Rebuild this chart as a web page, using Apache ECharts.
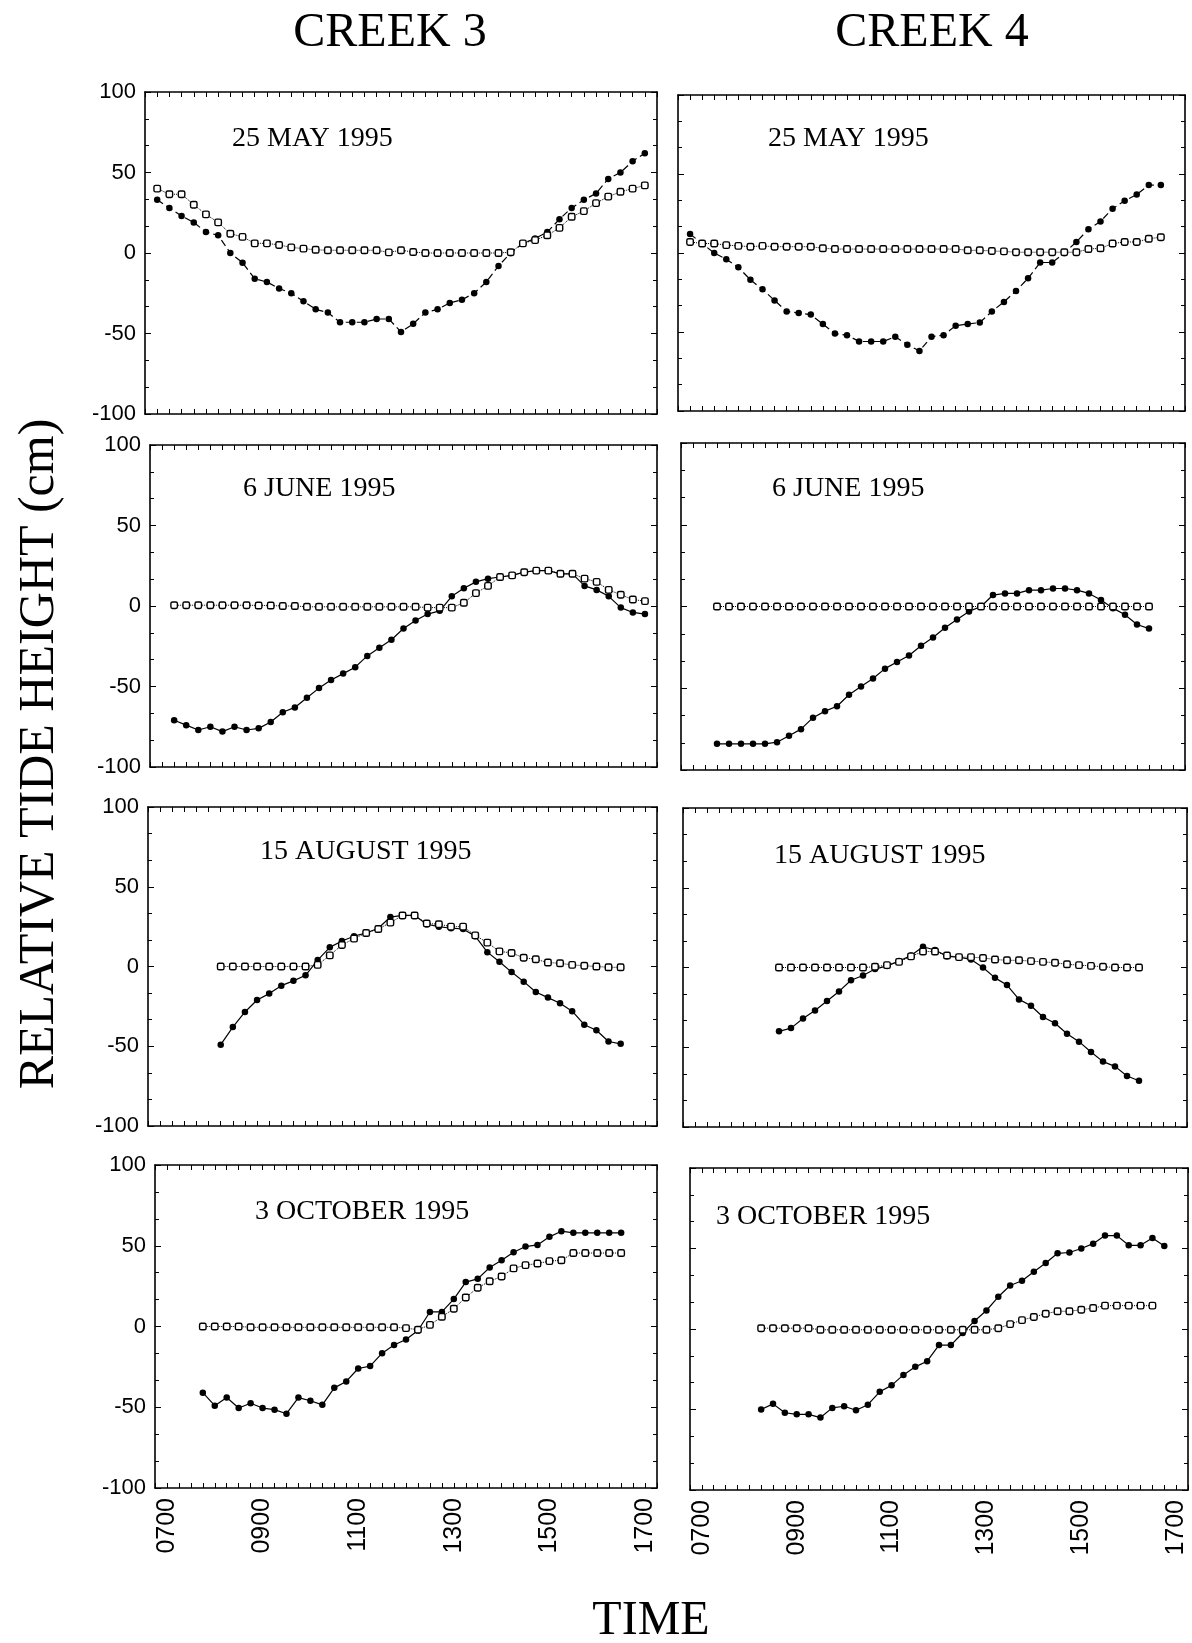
<!DOCTYPE html>
<html>
<head>
<meta charset="utf-8">
<title>Relative tide height - creeks 3 and 4</title>
<script src="https://cdn.jsdelivr.net/npm/echarts@6.0.0/dist/echarts.min.js"></script>
<style>
html, body { margin: 0; padding: 0; background: #fff; }
#main { width: 1192px; height: 1643px; }
</style>
</head>
<body>
<div id="main"></div>
<script>
// readings every 15 min, starting at the given clock time (hhmm)
var may3Start = '0700';
var may3Filled = [33, 28, 23, 19, 13, 11, 0, -6, -16, -18,
  -22, -25, -30, -35, -37, -43, -43, -43, -41, -41,
  -49, -44, -37, -35, -31, -29, -25, -18, -8, 0,
  6, 9, 13, 21, 28, 33, 37, 46, 50, 57, 62];
var may3Open = [40, 36.5, 36.5, 30, 24, 19, 12, 10, 6, 6,
  5, 3.5, 2.7, 2, 1.7, 1.7, 1.7, 1.7, 1.7, 0.4,
  1.7, 0.6, 0, 0, 0, 0, 0, 0, 0, 0.5,
  6, 8, 11, 15.6, 22.5, 26, 31, 35, 38, 40, 42];

var may4Start = '0700';
var may4Filled = [12, 6, 0, -4, -9, -17, -23, -30, -37, -38,
  -39, -45, -51, -52, -56, -56, -56, -53, -58, -62,
  -53, -52, -46, -45, -44, -37, -31, -24, -16, -6,
  -6, 0, 7, 15, 20, 28, 33, 37, 43, 43];
var may4Open = [7, 6, 6, 5, 4.5, 4, 4.5, 4, 4, 4,
  4, 3, 2.5, 2.5, 2.5, 2.5, 2.5, 2.5, 2.5, 2.5,
  2.5, 2.5, 2.5, 1.7, 1.7, 1.3, 1, 0.5, 0.5, 0.5,
  0.5, 0.5, 0.5, 2.5, 3, 6, 7, 7, 9, 10];

var jun3Start = '0715';
var jun3Filled = [-71, -74, -77, -75, -78, -75, -77, -76, -72, -66,
  -63, -57, -51, -46, -42, -38, -31, -26, -21, -14,
  -9, -5, -3, 6, 11, 15, 17, 18, 19, 21,
  22, 22, 20, 20, 12.5, 10, 6, -1, -4, -5];
var jun3Open = [0.5, 0.5, 0.5, 0.5, 0.5, 0.5, 0.5, 0.3, 0.3, 0,
  0, -0.5, -0.5, -0.5, -0.5, -0.5, -0.5, -0.5, -0.5, -0.5,
  -0.5, -1, -1, -1, 2, 8, 12.5, 18, 19, 21,
  22, 22, 20, 20, 17, 15, 10, 7, 4, 3];

var jun4Start = '0730';
var jun4Filled = [-84, -84, -84, -84, -84, -83, -79, -75, -68, -64,
  -61, -54, -49, -44, -38, -34, -30, -24, -19, -13,
  -8, -3, 0, 7, 8, 8, 10, 10, 11, 11,
  10, 8, 4, -1, -5, -11, -13.5];
var jun4Open = [0, 0, 0, 0, 0, 0, 0, 0, 0, 0,
  0, 0, 0, 0, 0, 0, 0, 0, 0, 0,
  0, 0, 0, 0, 0, 0, 0, 0, 0, 0,
  0, 0, 0, 0, 0, 0, 0];

var aug3Start = '0815';
var aug3Filled = [-49, -38, -28.5, -21, -17, -12, -9, -5.5, 4, 12,
  16, 19, 21, 24, 31, 32, 32, 26.5, 25, 24,
  23.5, 19, 9, 3, -3.5, -9.5, -16, -19.5, -23, -28,
  -36.5, -40, -47, -48.5];
var aug3Open = [0, 0, 0, 0, 0, 0, 0, 0, 1, 7,
  13.5, 17.5, 21, 23.5, 27.5, 32, 32, 27, 26.5, 25,
  25, 19.5, 15, 9.5, 8.5, 5.5, 4.5, 2.5, 2, 1,
  0.5, 0, -0.5, -0.5];

var aug4Start = '0845';
var aug4Filled = [-40, -38, -32, -27, -21, -15, -8, -5, -1, 1,
  4, 7.5, 13, 11, 7, 6.5, 5, 0, -6.5, -11,
  -20, -24, -31, -35, -41.5, -46.5, -53, -59, -62, -68,
  -71];
var aug4Open = [0, 0, 0, 0, 0, 0, 0, 0, 0.5, 1.5,
  3.5, 7, 10, 10, 7.5, 6.5, 6.5, 6, 5, 4.5,
  4.5, 4, 3.5, 3, 2, 1.5, 1, 0.5, 0, 0,
  0];

var oct3Start = '0745';
var oct3Filled = [-41, -49, -44, -50.5, -47.5, -50.5, -51.5, -54, -44, -46,
  -48.5, -38, -34, -26, -24.5, -16.5, -11.5, -8, -2.5, 9,
  9, 17, 27.5, 29.5, 36.5, 41, 46, 49.5, 50.5, 55.5,
  59, 58, 58, 58, 58, 58];
var oct3Open = [0, 0, 0, 0, -0.5, -0.5, -0.5, -0.5, -0.5, -0.5,
  -0.5, -0.5, -0.5, -0.5, -0.5, -0.5, -0.5, -1, -2, 1,
  6, 11, 18, 24, 28, 31, 36, 38, 39, 40.5,
  41, 45.5, 45.5, 45.5, 45.5, 45.5];

var oct4Start = '0815';
var oct4Filled = [-50, -46.5, -52, -53, -53, -55, -49, -48, -50.5, -47,
  -39, -35, -28.5, -23.5, -20, -10, -10, -2.5, 5, 11.5,
  20, 27, 30, 35.5, 41, 47, 47.5, 50, 53, 58,
  58, 52, 52, 56.5, 51.5];
var oct4Open = [0.5, 0.5, 0.5, 0.5, 0.5, -0.5, -0.5, -0.5, -0.5, -0.5,
  -0.5, -0.5, -0.5, -0.5, -0.5, -0.5, -0.5, -0.5, -0.5, -0.5,
  0.5, 3, 5.5, 7.5, 9.5, 11, 11, 12, 13, 14.5,
  14.5, 14.5, 14.5, 14.5];

var dates = ['25 MAY 1995', '6 JUNE 1995', '15 AUGUST 1995', '3 OCTOBER 1995'];
var creeks = ['CREEK 3', 'CREEK 4'];
var yTicks = [-100, -50, 0, 50, 100];
var xLabelHours = [7, 9, 11, 13, 15, 17];

var panels = [
  [may3Start, may3Filled, may3Open], [may4Start, may4Filled, may4Open],
  [jun3Start, jun3Filled, jun3Open], [jun4Start, jun4Filled, jun4Open],
  [aug3Start, aug3Filled, aug3Open], [aug4Start, aug4Filled, aug4Open],
  [oct3Start, oct3Filled, oct3Open], [oct4Start, oct4Filled, oct4Open]
];

// plot boxes in page pixels: left, top, right, bottom
var boxes = [
  [145, 92, 657, 414], [678, 95, 1185, 411],
  [150, 445, 657, 767], [681, 443, 1185, 770],
  [148, 807, 657, 1126], [683, 808, 1187, 1127],
  [155, 1165, 657, 1488], [690, 1168, 1188, 1490]
];
// where each date label sits: left x, middle y
var datePos = [
  [232, 139], [768, 139],
  [243, 489], [772, 489],
  [260, 852], [774, 856],
  [255, 1212], [716, 1217]
];

function toHours(hhmm) {
  return parseInt(hhmm.slice(0, 2), 10) + parseInt(hhmm.slice(2), 10) / 60;
}
function pairs(start, vals) {
  var t0 = toHours(start);
  return vals.map(function (v, i) { return [t0 + i * 0.25, v]; });
}
function hourLabel(v) {
  var h = Math.round(v * 4) / 4;
  if (xLabelHours.indexOf(h) < 0) return '';
  return (h < 10 ? '0' : '') + h + '00';
}

var chart = echarts.init(document.getElementById('main'));
var grid = [], xAxis = [], yAxis = [], series = [], graphic = [];
var frame = { show: true, onZero: false, lineStyle: { color: '#000', width: 1.6 } };

panels.forEach(function (p, i) {
  var row = Math.floor(i / 2), col = i % 2;
  var b = boxes[i];
  grid.push({ left: b[0], top: b[1], width: b[2] - b[0], height: b[3] - b[1], outerBoundsMode: 'none' });

  ['bottom', 'top'].forEach(function (pos) {
    xAxis.push({
      type: 'value', gridIndex: i, position: pos,
      min: 6.75, max: 17.25, interval: 0.25,
      axisLine: frame,
      axisTick: { show: true, inside: true, length: 5, lineStyle: { color: '#000', width: 1 } },
      axisLabel: {
        show: pos === 'bottom' && row === 3, rotate: 90, margin: 10,
        fontSize: 25, color: '#000', fontFamily: 'Liberation Sans',
        formatter: hourLabel
      },
      splitLine: { show: false }
    });
  });
  ['left', 'right'].forEach(function (pos) {
    yAxis.push({
      type: 'value', gridIndex: i, position: pos,
      min: yTicks[0], max: yTicks[yTicks.length - 1], interval: 50,
      axisLine: frame,
      axisTick: { show: true, inside: true, length: 6, lineStyle: { color: '#000', width: 1 } },
      minorTick: { show: true, splitNumber: 3, length: 4, lineStyle: { color: '#000', width: 1 } },
      axisLabel: {
        show: pos === 'left' && col === 0, margin: 9,
        fontSize: 22, color: '#000', fontFamily: 'Liberation Sans'
      },
      splitLine: { show: false }
    });
  });

  series.push({
    type: 'line', xAxisIndex: 2 * i, yAxisIndex: 2 * i,
    data: pairs(p[0], p[1]),
    symbol: 'circle', symbolSize: 6.5,
    itemStyle: { color: '#000' },
    lineStyle: { color: '#000', width: 1.2, type: row === 0 ? [7, 4] : 'solid' },
    animation: false, z: 3
  });
  series.push({
    type: 'line', xAxisIndex: 2 * i, yAxisIndex: 2 * i,
    data: pairs(p[0], p[2]),
    symbol: 'roundRect', symbolSize: 6.5,
    itemStyle: { color: '#fff', borderColor: '#000', borderWidth: 1.4 },
    lineStyle: { color: '#000', width: 1, type: 'dotted' },
    animation: false, z: 4
  });

  graphic.push({
    type: 'text', x: datePos[i][0], y: datePos[i][1],
    style: { text: dates[row], fill: '#000', fontSize: 28, fontFamily: 'Liberation Serif', align: 'left', verticalAlign: 'middle' }
  });
});

graphic.push({
  type: 'text', x: 390, y: 33,
  style: { text: creeks[0], fill: '#000', fontSize: 48, fontFamily: 'Liberation Serif', align: 'center', verticalAlign: 'middle' }
});
graphic.push({
  type: 'text', x: 932, y: 33,
  style: { text: creeks[1], fill: '#000', fontSize: 48, fontFamily: 'Liberation Serif', align: 'center', verticalAlign: 'middle' }
});
graphic.push({
  type: 'text', x: 40, y: 754, rotation: Math.PI / 2,
  style: { text: 'RELATIVE TIDE HEIGHT (cm)', fill: '#000', fontSize: 50, fontFamily: 'Liberation Serif', align: 'center', verticalAlign: 'middle' }
});
graphic.push({
  type: 'text', x: 651, y: 1621,
  style: { text: 'TIME', fill: '#000', fontSize: 48, fontFamily: 'Liberation Serif', align: 'center', verticalAlign: 'middle' }
});

chart.setOption({
  backgroundColor: '#fff',
  animation: false,
  grid: grid,
  xAxis: xAxis,
  yAxis: yAxis,
  series: series,
  graphic: graphic
});
</script>
</body>
</html>
